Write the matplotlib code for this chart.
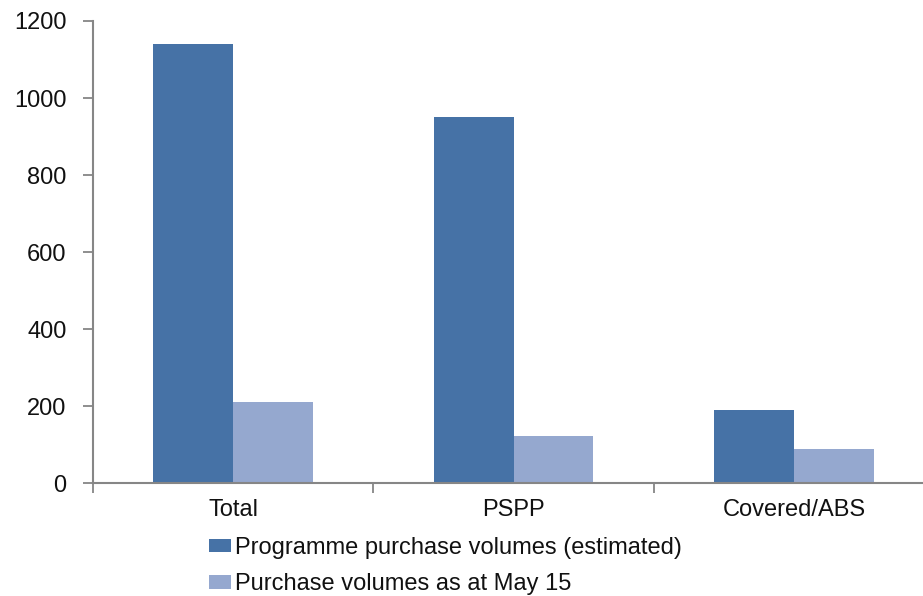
import numpy as np
import matplotlib.pyplot as plt

categories = ["Total", "PSPP", "Covered/ABS"]
programme = [1140, 950, 190]
purchased = [210, 122, 88]
labels = ["Programme purchase volumes (estimated)", "Purchase volumes as at May 15"]
yticks = [0, 200, 400, 600, 800, 1000, 1200]

plt.rcParams['font.family'] = ['Liberation Sans', 'DejaVu Sans']

fig = plt.figure(figsize=(9.23, 5.96), dpi=100)
# axes run a bit past the right edge, like the cropped original
ax = fig.add_axes([93 / 923, 1 - 483.3 / 596, 841 / 923, 462.3 / 596])

x = np.arange(len(categories))
w = 0.285
ax.bar(x - w / 2, programme, w, color='#4672a6', label=labels[0])
ax.bar(x + w / 2, purchased, w, color='#95a8cf', label=labels[1])

ax.set_xlim(-0.5, 2.5)
ax.set_ylim(0, 1200)
ax.set_yticks(yticks)
ax.set_xticks(x)
ax.set_xticklabels(categories)
# category boundary ticks like Excel
ax.set_xticks([-0.5, 0.5, 1.5, 2.5], minor=True)
ax.tick_params(axis='x', which='major', length=0, pad=11, labelsize=17, labelcolor='#111111')
ax.tick_params(axis='x', which='minor', length=7, width=1.3, color='#868686', direction='out')
ax.tick_params(axis='y', length=7, width=1.3, color='#868686', pad=12, labelsize=17, labelcolor='#111111')

for s in ['top', 'right']:
    ax.spines[s].set_visible(False)
for s in ['left', 'bottom']:
    ax.spines[s].set_color('#868686')
    ax.spines[s].set_linewidth(1.5)

fig.legend(loc='upper left', bbox_to_anchor=(209 / 923, 1 - 537 / 596),
           frameon=False, fontsize=17, handlelength=0.95, handleheight=0.5,
           handletextpad=0.15, labelspacing=0.6, borderpad=0, borderaxespad=0,
           labelcolor='#111111')

fig.savefig('out.png', dpi=100)
